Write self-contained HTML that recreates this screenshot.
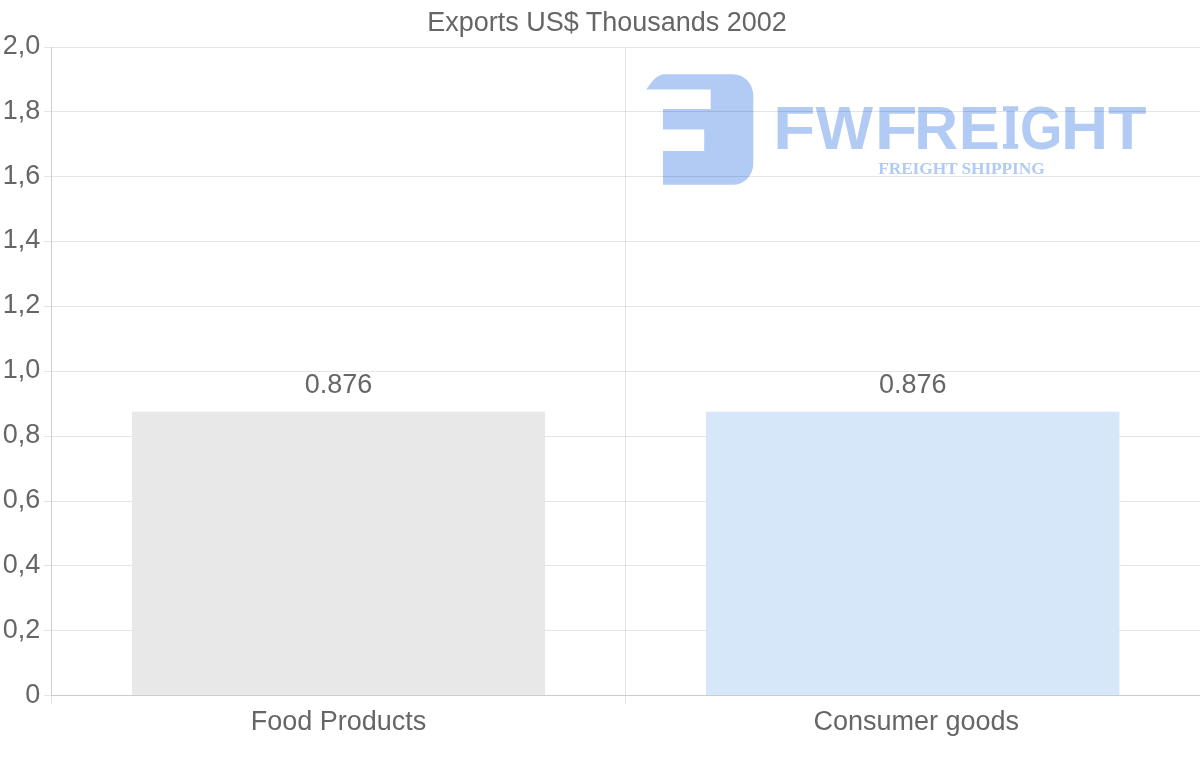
<!DOCTYPE html>
<html lang="en">
<head>
<meta charset="utf-8">
<title>Exports US$ Thousands 2002</title>
<style>
html,body{margin:0;padding:0;background:#fff;}
body{width:1200px;height:763px;overflow:hidden;}
svg{display:block;}
.t{font-family:"Liberation Sans",Arial,Helvetica,sans-serif;font-size:27px;fill:#666;}
.brand{font-family:"Liberation Sans",Arial,sans-serif;font-weight:bold;fill:#b2cbf4;}
.tag{font-family:"Liberation Serif","Times New Roman",serif;font-weight:bold;font-size:17.4px;fill:#b2cbf4;}
</style>
</head>
<body>
<svg width="1200" height="763" viewBox="0 0 1200 763">
<rect width="1200" height="763" fill="#fff"/>
<g id="watermark">
<path fill="#b2cbf4" d="M664,74.2 L732.9,74.2 A20.4,21.5 0 0 1 753.3,95.7 L753.3,163.8 A20.4,21 0 0 1 732.9,184.8 L663,184.8 L663,151 L704.2,151 L704.2,129.4 L663,129.4 L663,109 L710.7,109 L710.7,89.5 L646.3,89.5 Q656,74.2 664,74.2 Z"/>
<text class="brand" y="148.75" font-size="60.83"><tspan x="772.96" y="148.75" textLength="42.38" lengthAdjust="spacingAndGlyphs">F</tspan><tspan x="815.44" y="148.75" textLength="57.52" lengthAdjust="spacingAndGlyphs">W</tspan><tspan x="874.82" y="148.75" textLength="42.74" lengthAdjust="spacingAndGlyphs">F</tspan><tspan x="914.14" y="148.75" textLength="43.80" lengthAdjust="spacingAndGlyphs">R</tspan><tspan x="958.89" y="148.75" textLength="41.02" lengthAdjust="spacingAndGlyphs">E</tspan><tspan x="1001.63" y="148.05" textLength="17.71" lengthAdjust="spacingAndGlyphs" font-family="DejaVu Serif, Liberation Serif, serif" font-size="55.49" stroke="#b2cbf4" stroke-width="1.4" stroke-linejoin="miter">I</tspan><tspan x="1020.06" y="148.75" textLength="42.42" lengthAdjust="spacingAndGlyphs">G</tspan><tspan x="1061.12" y="148.75" textLength="47.29" lengthAdjust="spacingAndGlyphs">H</tspan><tspan x="1107.99" y="148.75" textLength="38.48" lengthAdjust="spacingAndGlyphs">T</tspan></text>
<text class="tag" x="878.2" y="174.2" textLength="166.5" lengthAdjust="spacing">FREIGHT SHIPPING</text>
</g>
<g id="grid" shape-rendering="crispEdges">
<rect x="44" y="47" width="7" height="1" fill="rgba(0,0,0,0.1)"/>
<rect x="52" y="47" width="1148" height="1" fill="rgba(0,0,0,0.1)"/>
<rect x="44" y="111" width="7" height="1" fill="rgba(0,0,0,0.1)"/>
<rect x="52" y="111" width="1148" height="1" fill="rgba(0,0,0,0.1)"/>
<rect x="44" y="176" width="7" height="1" fill="rgba(0,0,0,0.1)"/>
<rect x="52" y="176" width="1148" height="1" fill="rgba(0,0,0,0.1)"/>
<rect x="44" y="241" width="7" height="1" fill="rgba(0,0,0,0.1)"/>
<rect x="52" y="241" width="1148" height="1" fill="rgba(0,0,0,0.1)"/>
<rect x="44" y="306" width="7" height="1" fill="rgba(0,0,0,0.1)"/>
<rect x="52" y="306" width="1148" height="1" fill="rgba(0,0,0,0.1)"/>
<rect x="44" y="371" width="7" height="1" fill="rgba(0,0,0,0.1)"/>
<rect x="52" y="371" width="1148" height="1" fill="rgba(0,0,0,0.1)"/>
<rect x="44" y="436" width="7" height="1" fill="rgba(0,0,0,0.1)"/>
<rect x="52" y="436" width="1148" height="1" fill="rgba(0,0,0,0.1)"/>
<rect x="44" y="501" width="7" height="1" fill="rgba(0,0,0,0.1)"/>
<rect x="52" y="501" width="1148" height="1" fill="rgba(0,0,0,0.1)"/>
<rect x="44" y="565" width="7" height="1" fill="rgba(0,0,0,0.1)"/>
<rect x="52" y="565" width="1148" height="1" fill="rgba(0,0,0,0.1)"/>
<rect x="44" y="630" width="7" height="1" fill="rgba(0,0,0,0.1)"/>
<rect x="52" y="630" width="1148" height="1" fill="rgba(0,0,0,0.1)"/>
<rect x="44" y="695" width="7" height="1" fill="rgba(0,0,0,0.1)"/>
<rect x="52" y="695" width="1148" height="1" fill="rgba(0,0,0,0.2)"/>
<rect x="51" y="47" width="1" height="649" fill="rgba(0,0,0,0.19)"/>
<rect x="51" y="696" width="1" height="8" fill="rgba(0,0,0,0.1)"/>
<rect x="625" y="48" width="1" height="647" fill="rgba(0,0,0,0.1)"/>
<rect x="625" y="696" width="1" height="8" fill="rgba(0,0,0,0.1)"/>
</g>
<rect x="132" y="411.7" width="413" height="283.3" fill="#e8e8e8"/>
<rect x="706" y="411.7" width="413.4" height="283.3" fill="#d7e7fa"/>
<text class="t" x="607" y="30.7" text-anchor="middle">Exports US$ Thousands 2002</text>
<text class="t" x="40.2" y="53.7" text-anchor="end">2,0</text>
<text class="t" x="40.2" y="118.6" text-anchor="end">1,8</text>
<text class="t" x="40.2" y="183.5" text-anchor="end">1,6</text>
<text class="t" x="40.2" y="248.3" text-anchor="end">1,4</text>
<text class="t" x="40.2" y="313.2" text-anchor="end">1,2</text>
<text class="t" x="40.2" y="378.1" text-anchor="end">1,0</text>
<text class="t" x="40.2" y="443.0" text-anchor="end">0,8</text>
<text class="t" x="40.2" y="507.9" text-anchor="end">0,6</text>
<text class="t" x="40.2" y="572.7" text-anchor="end">0,4</text>
<text class="t" x="40.2" y="637.6" text-anchor="end">0,2</text>
<text class="t" x="40.2" y="702.5" text-anchor="end">0</text>
<text class="t" x="338.5" y="393.3" text-anchor="middle">0.876</text>
<text class="t" x="912.8" y="393.3" text-anchor="middle">0.876</text>
<text class="t" x="338.5" y="729.7" text-anchor="middle">Food Products</text>
<text class="t" x="916.3" y="729.7" text-anchor="middle">Consumer goods</text>
</svg>
</body>
</html>
